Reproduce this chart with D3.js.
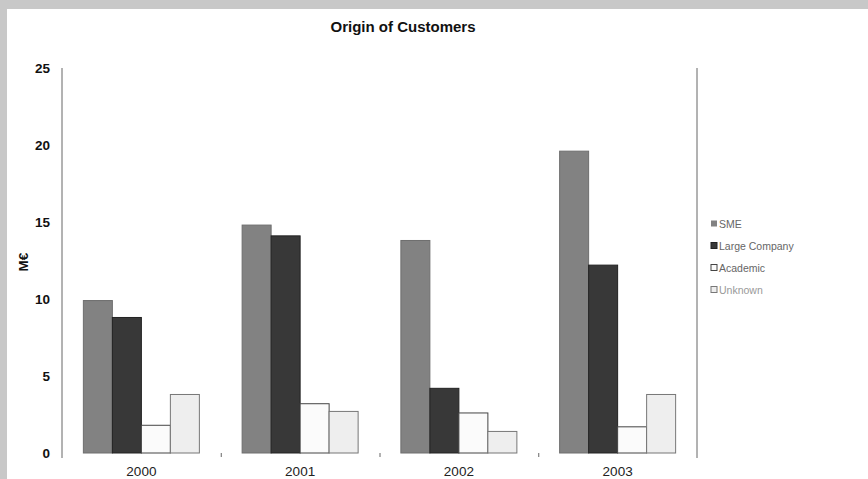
<!DOCTYPE html>
<html><head><meta charset="utf-8">
<script src="https://cdn.jsdelivr.net/npm/d3@7"></script>
<style>html,body{margin:0;padding:0;background:#c8c8c8;}svg{display:block;}</style>
</head><body>
<svg id="chart" width="868" height="479"></svg>
<script>
const categories = ["2000", "2001", "2002", "2003"];
const series = ["SME", "Large Company", "Academic", "Unknown"];
const sme = [9.9, 14.8, 13.8, 19.6];
const large = [8.8, 14.1, 4.2, 12.2];
const academic = [1.8, 3.2, 2.6, 1.7];
const unknown = [3.8, 2.7, 1.4, 3.8];
const yTicks = [0, 5, 10, 15, 20, 25];
const title = "Origin of Customers";
const yLabel = "M€";

const values = [sme, large, academic, unknown];
const fills = ["#828282", "#383838", "#fbfbfb", "#eeeeee"];
const strokes = ["#6e6e6e", "#222222", "#444444", "#777777"];

const svg = d3.select("#chart");
svg.append("rect").attr("x", 7).attr("y", 9).attr("width", 861).attr("height", 470).attr("fill", "#ffffff");

const x0 = d3.scaleBand().domain(categories).range([62, 697]).paddingInner(0).paddingOuter(0);
const x1 = d3.scaleBand().domain(series).range([0, x0.bandwidth()]).paddingInner(0).paddingOuter(0.737);
const y = d3.scaleLinear().domain([0, 25]).range([453, 68]);

// title
svg.append("text").attr("x", 403).attr("y", 32).attr("text-anchor", "middle")
  .attr("font-family", "Arial, 'Liberation Sans', sans-serif").attr("font-weight", "bold")
  .attr("font-size", 15).attr("fill", "#111").text(title);

// y axis
const yAxis = d3.axisLeft(y).tickValues(yTicks).tickSize(0).tickPadding(12);
const gy = svg.append("g").attr("transform", "translate(62,0)").call(yAxis);
gy.select(".domain").remove();
gy.selectAll("text").attr("font-family", "Arial, 'Liberation Sans', sans-serif")
  .attr("font-weight", "bold").attr("font-size", 13.5).attr("fill", "#111");
svg.append("line").attr("x1", 62).attr("x2", 62).attr("y1", 68).attr("y2", 458)
  .attr("stroke", "#666").attr("stroke-width", 1);
svg.append("line").attr("x1", 697).attr("x2", 697).attr("y1", 68).attr("y2", 458)
  .attr("stroke", "#666").attr("stroke-width", 1);

// y label
svg.append("text").attr("transform", "translate(28,262) rotate(-90)").attr("text-anchor", "middle")
  .attr("font-family", "Arial, 'Liberation Sans', sans-serif").attr("font-weight", "bold")
  .attr("font-size", 13.5).attr("fill", "#111").text(yLabel);

// x axis (separator ticks and labels only)
const xAxis = d3.axisBottom(x0).tickSize(0).tickPadding(13);
const gx = svg.append("g").attr("transform", "translate(0,453)").call(xAxis);
gx.select(".domain").remove();
gx.selectAll("text").attr("font-family", "Arial, 'Liberation Sans', sans-serif")
  .attr("font-size", 13.5).attr("fill", "#222");
svg.append("g").selectAll("line").data(categories.slice(1)).join("line")
  .attr("x1", d => x0(d) + 0.5).attr("x2", d => x0(d) + 0.5)
  .attr("y1", 453).attr("y2", 457).attr("stroke", "#666");

// bars
series.forEach((s, si) => {
  svg.append("g").selectAll("rect").data(categories).join("rect")
    .attr("x", d => x0(d) + x1(s))
    .attr("y", (d, i) => y(values[si][i]))
    .attr("width", x1.bandwidth())
    .attr("height", (d, i) => y(0) - y(values[si][i]))
    .attr("fill", fills[si]).attr("stroke", strokes[si]).attr("stroke-width", 1);
});

// legend
const lg = svg.append("g");
series.forEach((s, si) => {
  const ly = 224 + si * 22;
  lg.append("rect").attr("x", 711).attr("y", ly - 3.5).attr("width", 6).attr("height", 6)
    .attr("fill", fills[si]).attr("stroke", si === 0 ? "none" : strokes[si]);
  lg.append("text").attr("x", 719).attr("y", ly + 4)
    .attr("font-family", "Arial, 'Liberation Sans', sans-serif")
    .attr("font-size", 10.5).attr("fill", si === 3 ? "#999" : "#666").text(s);
});
</script>
</body></html>
